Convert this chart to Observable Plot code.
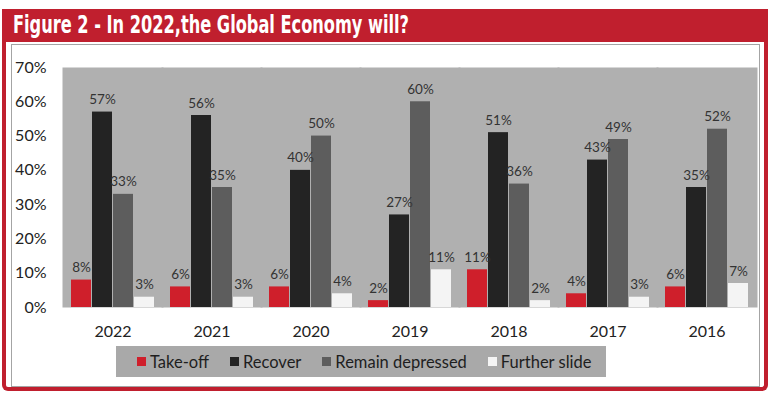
<!DOCTYPE html>
<html>
<head>
<meta charset="utf-8">
<script src="https://cdn.jsdelivr.net/npm/d3@7"></script>
<script src="https://cdn.jsdelivr.net/npm/@observablehq/plot@0.6"></script>
<style>
  html, body { margin: 0; padding: 0; background: #fff; }
  body { width: 770px; height: 399px; position: relative; overflow: hidden; font-family: Lato, "Open Sans", sans-serif; }
  #frame { position: absolute; left: 2px; top: 9px; width: 758px; height: 378px; border: 4px solid #c01f2e; border-top: none; border-radius: 0 0 6px 6px; }
  #title { position: absolute; left: 2px; top: 9px; width: 766px; height: 33px; background: #c01f2e; overflow: hidden; }
  #title span { position: absolute; left: 11px; top: 0; color: #fff; transform-origin: 0 50%;
           font-family: "Liberation Sans Narrow", "DejaVu Sans Condensed", "Liberation Sans", sans-serif; font-weight: bold;
           font-size: 24px; line-height: 33px; white-space: nowrap; }
  #inner { position: absolute; left: 11px; top: 44px; width: 747px; height: 341px; border: 1px solid #a4a4a4; }
  #chart { position: absolute; left: 0; top: 45px; }
  #legend { position: absolute; left: 116px; top: 346px; width: 490px; height: 31px; background: #a9a9a9;
            box-sizing: border-box; padding-left: 21px; display: flex; align-items: center; overflow: hidden; }
  .lg-swatches { font-family: Lato, sans-serif !important; font-size: 16.5px !important; color: #1e1e1e !important; margin: 0 !important; min-height: 0 !important; flex-wrap: nowrap !important; white-space: nowrap !important; display: flex !important; }
  .lg-swatch { margin-right: 21px !important; white-space: nowrap !important; }
  .lg-swatch > svg { margin-right: 4px !important; }
</style>
</head>
<body>
<div id="frame"></div>
<div id="title"><span id="titletext">Figure 2 - In 2022,the Global Economy will?</span></div>
<div id="inner"></div>
<div id="chart"></div>
<div id="legend"></div>
<script>
const years = ["2022", "2021", "2020", "2019", "2018", "2017", "2016"];
const series = ["Take-off", "Recover", "Remain depressed", "Further slide"];
const takeOff = [8, 6, 6, 2, 11, 4, 6];
const recover = [57, 56, 40, 27, 51, 43, 35];
const remainDepressed = [33, 35, 50, 60, 36, 49, 52];
const furtherSlide = [3, 3, 4, 11, 2, 3, 7];
const yTicks = [0, 10, 20, 30, 40, 50, 60, 70];
const colors = ["#cf1f2b", "#232323", "#5d5d5d", "#f4f4f4"];

const seriesValues = [takeOff, recover, remainDepressed, furtherSlide];
const data = years.flatMap((year, i) =>
  series.map((s, j) => ({year, series: s, value: seriesValues[j][i]}))
);

const plot = Plot.plot({
  width: 770,
  height: 300,
  marginTop: 22,
  marginBottom: 38,
  marginLeft: 62,
  marginRight: 14,
  style: {fontFamily: "Lato, sans-serif", fontSize: "16px", color: "#222", background: "transparent"},
  fx: {domain: years, padding: 0, label: null, axis: "bottom", tickSize: 0, tickPadding: 18},
  x: {domain: series, paddingInner: 0.03, paddingOuter: 0.33, axis: null},
  y: {domain: [0, 70], ticks: yTicks, tickFormat: d => d + "%", tickSize: 0, tickPadding: 17, label: null},
  color: {domain: series, range: colors},
  marks: [
    Plot.frame({fill: "#b0b0b0", stroke: null, insetLeft: -1, insetRight: -1}),
    Plot.barY(data, {fx: "year", x: "series", y: "value", fill: "series"}),
    Plot.text(data, {fx: "year", x: "series", y: "value", text: d => d.value + "%", dy: -8, lineAnchor: "bottom", fill: "#333", fontSize: 13.5})
  ]
});
document.getElementById("chart").appendChild(plot);

const legend = Plot.legend({
  color: {domain: series, range: colors},
  legend: "swatches",
  swatchSize: 9,
  className: "lg"
});
document.getElementById("legend").appendChild(legend);

// condense the title to the reference's width
const tt = document.getElementById("titletext");
const w = tt.getBoundingClientRect().width;
if (w > 0) tt.style.transform = `scaleX(${396 / w})`;
</script>
</body>
</html>
